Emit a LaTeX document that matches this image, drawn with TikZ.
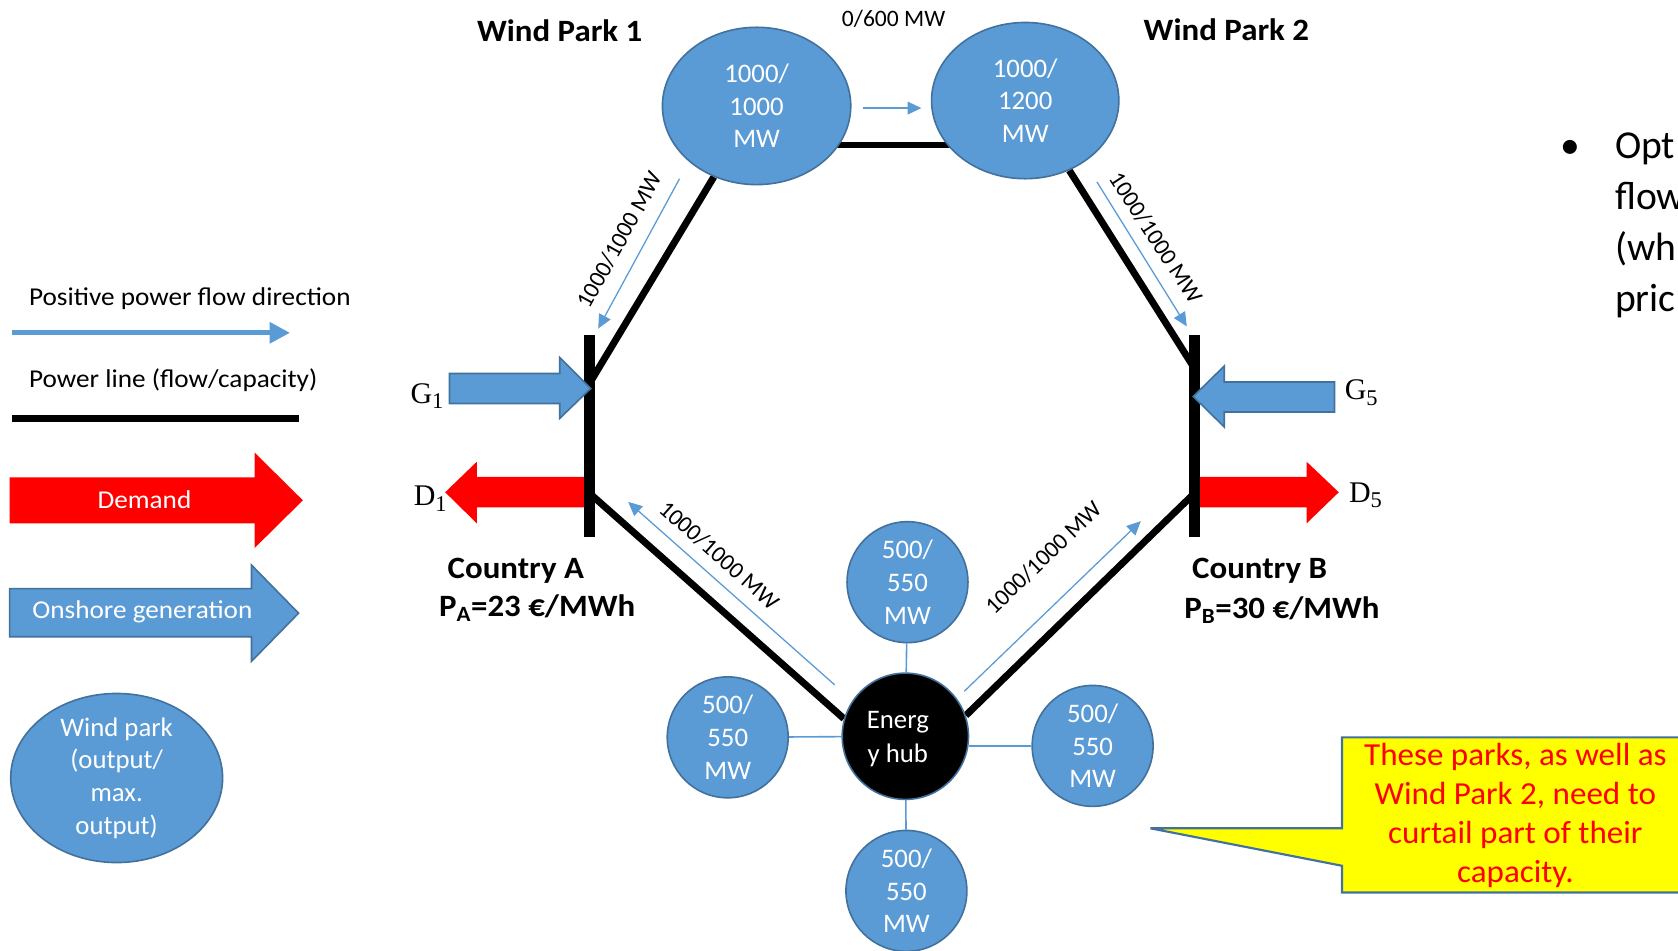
\documentclass[tikz,border=0pt]{standalone}
\usepackage{fontspec}
\setmainfont{Carlito}
\newfontfamily\widefont{Carlito}[FakeStretch=1.06]
\newfontfamily\midfont{Carlito}[FakeStretch=1.03]
\newfontfamily\seriffont{Liberation Serif}
\usetikzlibrary{shapes.geometric,arrows.meta,calc,backgrounds}
\definecolor{obl}{HTML}{5B9BD5}
\definecolor{obd}{HTML}{41719C}
\definecolor{ored}{HTML}{FF0000}
\definecolor{oyel}{HTML}{FFFF00}
\begin{document}
\begin{tikzpicture}[x=1pt,y=-1pt,
  park/.style={ellipse, fill=obl, draw=obd, line width=1.5pt, inner sep=0pt},
  parktext/.style={text=white, align=center, font=\fontsize{25}{30.5}\selectfont, inner sep=0pt},
  small/.style={circle, fill=obl, draw=obd, line width=1.5pt, minimum size=113pt, inner sep=0pt},
  powerline/.style={line width=6.5pt, black},
  flow/.style={obl, line width=1.2pt, -{Triangle[length=13pt,width=12pt]}},
  flowlabel/.style={font=\fontsize{22}{22}\selectfont, inner sep=0pt},
  title/.style={font=\widefont\bfseries\fontsize{29}{35}\selectfont, inner sep=0pt},
  bus/.style={fill=black, minimum width=10pt, minimum height=189pt, inner sep=0pt},
  gen/.style={fill=obl, draw=obd, line width=1.5pt},
  dem/.style={fill=ored},
  conn/.style={obl, line width=1.5pt},
  sym/.style={font=\seriffont\fontsize{28}{28}\selectfont, inner sep=0pt},
  legtext/.style={font=\widefont\fontsize{24}{29}\selectfont, inner sep=0pt, anchor=west},
  bigtext/.style={font=\fontsize{37}{45}\selectfont, inner sep=0pt, anchor=base west},
]
\useasboundingbox (0,0) rectangle (1568,888);
\clip (0,0) rectangle (1568,888);

% ---------- legend ----------
\node[legtext] (legflow) at (27,279) {Positive power flow direction};
\coordinate (lf1) at (11,311);
\coordinate (lf2) at (271,311);
\draw[obl, line width=4.5pt, -{Triangle[length=19pt,width=19pt]}] (lf1) -- (lf2);
\node[legtext] (legline) at (27,355) {Power line (flow/capacity)};
\coordinate (ll1) at (11,391);
\coordinate (ll2) at (279,391);
\draw[line width=7pt] (ll1) -- (ll2);
\fill[dem] (9,446) -- (238,446) -- (238,423) -- (283,467.5) -- (238,512) -- (238,489) -- (9,489) -- cycle;
\node[text=white, font=\widefont\fontsize{24}{29}\selectfont] (legdem) at (135,467) {Demand};
\filldraw[gen] (9,550) -- (235,550) -- (235,528) -- (279,573) -- (235,618) -- (235,595) -- (9,595) -- cycle;
\node[text=white, font=\widefont\fontsize{24}{29}\selectfont] (leggen) at (133,572) {Onshore generation};
\node[park, minimum width=198pt, minimum height=158pt] (legwp) at (109,727) {};
\node[parktext] at (legwp) {Wind park\\(output/\\max.\\output)};

% ---------- wind parks ----------
\node[park, minimum width=176pt, minimum height=147pt] (wp1) at (707,99) {};
\node[parktext] at (wp1) {1000/\\1000\\MW};
\node[park, minimum width=175pt, minimum height=146pt] (wp2) at (958,94) {};
\node[parktext] at (wp2) {1000/\\1200\\MW};
\node[title] (t1) at (523,29) {Wind Park 1};
\node[title] (t2) at (1146,28) {Wind Park 2};
\node[font=\fontsize{22}{22}\selectfont, inner sep=0pt] (l0) at (835,18) {0/600 MW};

% ---------- hub and small parks ----------
\node[circle, fill=black, draw=obd, line width=1.5pt, minimum size=118pt, inner sep=0pt] (hub) at (846,688) {};
\node[parktext, font=\fontsize{25}{32}\selectfont] at ([xshift=-7pt,yshift=-2.5pt]hub.center) {Energ\\y hub};
\node[small] (st) at (848,544) {};
\node[parktext] at (st) {500/\\550\\MW};
\node[small] (sl) at (680,689) {};
\node[parktext] at (sl) {500/\\550\\MW};
\node[small] (sr) at (1021,697) {};
\node[parktext] at (sr) {500/\\550\\MW};
\node[small] (sb) at (847,832.5) {};
\node[parktext] at (sb) {500/\\550\\MW};

% ---------- buses ----------
\fill[dem] (549,445.5) -- (445.5,445.5) -- (445.5,431.5) -- (416,460) -- (445.5,489) -- (445.5,474) -- (549,474) -- cycle;
\fill[dem] (1117,445.5) -- (1221,445.5) -- (1221,431.5) -- (1251,460) -- (1221,489) -- (1221,474) -- (1117,474) -- cycle;
\node[bus] (busA) at (551,407.5) {};
\node[bus] (busB) at (1116,407.5) {};
\filldraw[gen] (420,349) -- (523,349) -- (523,334) -- (552,363) -- (523,391) -- (523,377) -- (420,377) -- cycle;
\filldraw[gen] (1247,357) -- (1144,357) -- (1144,342) -- (1115,370.5) -- (1144,399) -- (1144,385) -- (1247,385) -- cycle;

\node[sym] (G1) at (399,370) {G\raisebox{-5pt}{\fontsize{21}{21}\selectfont 1}};
\node[sym] (D1) at (402,466) {D\raisebox{-5pt}{\fontsize{21}{21}\selectfont 1}};
\node[sym] (G5) at (1272,367) {G\raisebox{-5pt}{\fontsize{21}{21}\selectfont 5}};
\node[sym] (D5) at (1276,463) {D\raisebox{-5pt}{\fontsize{21}{21}\selectfont 5}};

\node[title] (cA) at (482,533) {Country A};
\node[title] (pA) at (502,568) {P\textsubscript{A}=23 €/MWh};
\node[title] (cB) at (1177,533) {Country B};
\node[title] (pB) at (1198,570) {P\textsubscript{B}=30 €/MWh};

% ---------- power lines (behind) ----------
\begin{scope}[on background layer]
  \draw[powerline] ([yshift=-36.5pt]wp1.center) -- ([yshift=-36.5pt]wp1.center -| wp2.center);
  \draw[powerline] (wp1) -- ([yshift=49.5pt]busA.center);
  \draw[powerline] (wp2) -- ([yshift=63.5pt]busB.center);
  \draw[powerline] ([yshift=-53.5pt]busA.center) -- (hub.164);
  \draw[powerline] (hub.19) -- ([yshift=-53.5pt]busB.center);
  \draw[conn] (st) -- (hub);
  \draw[conn] (sl) -- (hub);
  \draw[conn] (sr.west) -- (sr.west -| hub.east);
  \draw[conn] (sb) -- (hub);
\end{scope}

% ---------- flow arrows and labels ----------
\coordinate (f0a) at (806,101); \coordinate (f0b) at (861,101);
\draw[flow] (f0a) -- (f0b);
\coordinate (f1a) at (635,167); \coordinate (f1b) at (559,307);
\draw[flow] (f1a) -- (f1b);
\coordinate (f2a) at (1025,170); \coordinate (f2b) at (1109,305);
\draw[flow] (f2a) -- (f2b);
\coordinate (f3a) at (780,640); \coordinate (f3b) at (587,469);
\draw[flow] (f3a) -- (f3b);
\coordinate (f4a) at (901,646); \coordinate (f4b) at (1066,487);
\draw[flow] (f4a) -- (f4b);
\node[flowlabel, rotate=61] (l1) at (579,224) {1000/1000 MW};
\node[flowlabel, rotate=-57] (l2) at (1080,222) {1000/1000 MW};
\node[flowlabel, rotate=-41.5] (l3) at (672,519) {1000/1000 MW};
\node[flowlabel, rotate=44] (l4) at (975,521) {1000/1000 MW};

% ---------- right text ----------
\node[font=\fontsize{37}{45}\selectfont, inner sep=0pt, anchor=base] (bul) at (1467,148) {•};
\node[bigtext] (o1) at (1509,148) {Opt};
\node[bigtext] (o2) at (1509,195.7) {flow};
\node[bigtext] (o3) at (1509,243.4) {(wh};
\node[bigtext] (o4) at (1509,291) {pric};

% ---------- callout ----------
\filldraw[fill=oyel, draw=obd, line width=2pt] (1254,689) -- (1600,689) -- (1600,834) -- (1254,834) -- (1254,809) -- (1075,774) -- (1254,774) -- cycle;
\node[text=ored, align=center, font=\midfont\fontsize{30}{36.5}\selectfont, inner sep=0pt] (call) at (1416,762) {These parks, as well as\\Wind Park 2, need to\\curtail part of their\\capacity.};
\end{tikzpicture}
\end{document}
